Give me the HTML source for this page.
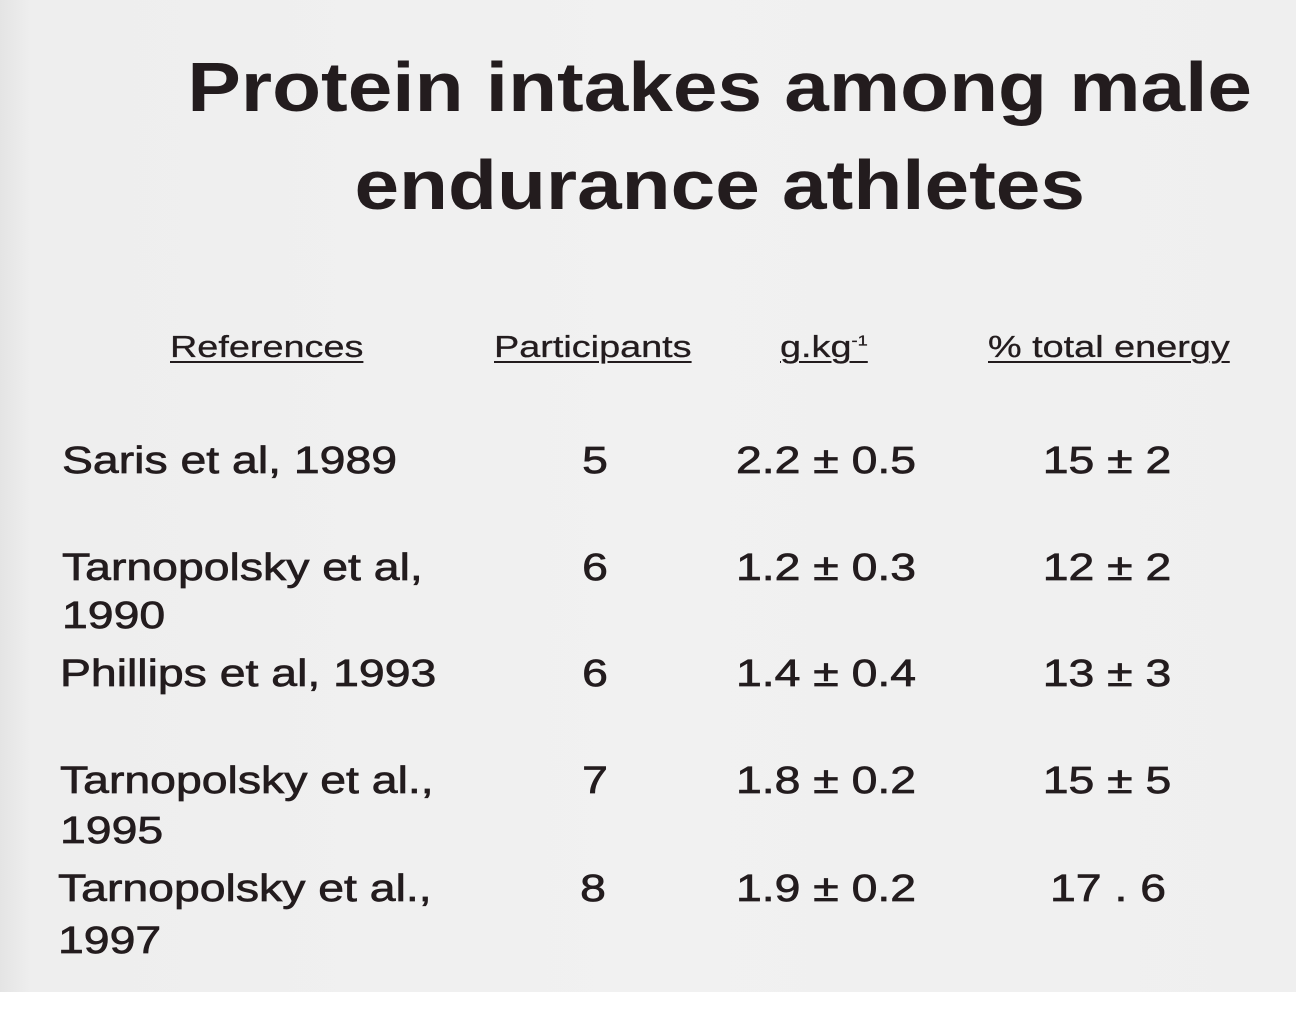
<!DOCTYPE html>
<html><head><style>
body{margin:0;width:1310px;height:1014px;background:#fff;position:relative;overflow:hidden;font-family:"Liberation Sans",sans-serif;color:#231c1e}
#bg{position:absolute;left:0;top:0;width:1296px;height:992px;background:linear-gradient(90deg,#e4e4e4 0,#eeeeee 30px,#f1f1f1 50%,#efefef 100%)}
.t{position:absolute;white-space:nowrap;line-height:1;transform-origin:left center}
.h{font-size:70px;font-weight:bold;left:0;width:1440px;text-align:center;transform:scaleX(1.145);transform-origin:722px center}
.hd{font-size:31px;text-decoration:underline;text-underline-offset:4px;text-decoration-thickness:2px;transform:scaleX(1.22);-webkit-text-stroke:0.3px #231c1e}
.r{font-size:38px;transform:scaleX(1.22);-webkit-text-stroke:0.7px #231c1e}
.c{text-align:center;width:300px;transform-origin:center center}
</style></head><body>
<div id="bg"></div>
<div class="t h" style="top:52px">Protein intakes among male</div>
<div class="t h" style="top:150px">endurance athletes</div>

<div class="t hd" style="left:170px;top:331px">References</div>
<div class="t hd" style="left:494px;top:331px">Participants</div>
<div class="t hd" style="left:780px;top:331px">g.kg<sup style="font-size:15px">-1</sup></div>
<div class="t hd" style="left:988px;top:331px">% total energy</div>

<div class="t r" style="left:62px;top:442px">Saris et al, 1989</div>
<div class="t r" style="left:62px;top:549px">Tarnopolsky et al,</div>
<div class="t r" style="left:62px;top:597px">1990</div>
<div class="t r" style="left:60px;top:655px">Phillips et al, 1993</div>
<div class="t r" style="left:60px;top:762px">Tarnopolsky et al.,</div>
<div class="t r" style="left:60px;top:812px">1995</div>
<div class="t r" style="left:58px;top:870px">Tarnopolsky et al.,</div>
<div class="t r" style="left:58px;top:922px">1997</div>

<div class="t r c" style="left:445px;top:442px">5</div>
<div class="t r c" style="left:445px;top:549px">6</div>
<div class="t r c" style="left:445px;top:655px">6</div>
<div class="t r c" style="left:445px;top:762px">7</div>
<div class="t r c" style="left:443px;top:870px">8</div>

<div class="t r c" style="left:676px;top:442px">2.2 ± 0.5</div>
<div class="t r c" style="left:676px;top:549px">1.2 ± 0.3</div>
<div class="t r c" style="left:676px;top:655px">1.4 ± 0.4</div>
<div class="t r c" style="left:676px;top:762px">1.8 ± 0.2</div>
<div class="t r c" style="left:676px;top:870px">1.9 ± 0.2</div>

<div class="t r c" style="left:957px;top:442px">15 ± 2</div>
<div class="t r c" style="left:957px;top:549px">12 ± 2</div>
<div class="t r c" style="left:957px;top:655px">13 ± 3</div>
<div class="t r c" style="left:957px;top:762px">15 ± 5</div>
<div class="t r c" style="left:958px;top:870px">17 . 6</div>
</body></html>
